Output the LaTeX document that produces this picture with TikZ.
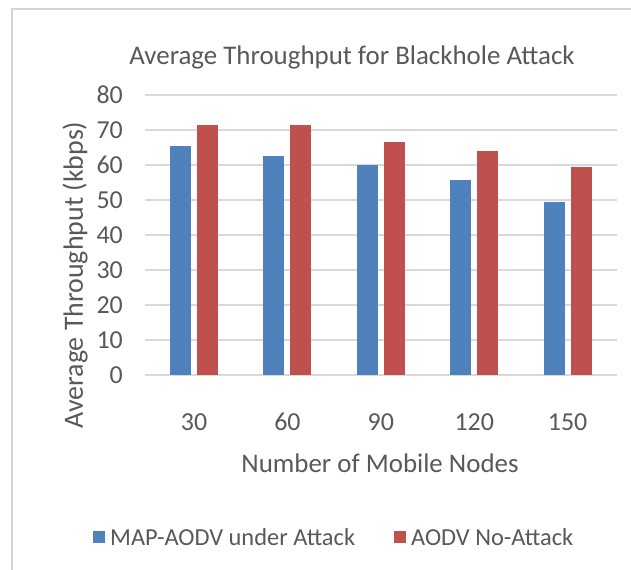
\documentclass[tikz,border=0pt]{standalone}
\usepackage{fontspec}
\setmainfont{Carlito}
\definecolor{txtgray}{HTML}{595959}
\definecolor{gridgray}{HTML}{D9D9D9}
\definecolor{framegray}{HTML}{D4D4D4}
\definecolor{serA}{HTML}{4F81BD}
\definecolor{serB}{HTML}{C0504D}
\begin{document}
\begin{tikzpicture}[x=1bp,y=-1bp,
  lbl/.style={text=txtgray,inner sep=0pt,font=\fontsize{26}{30}\selectfont},
  ttl/.style={text=txtgray,inner sep=0pt,font=\fontsize{27}{31}\selectfont},
  leg/.style={text=txtgray,inner sep=0pt,font=\fontsize{24.5}{28}\selectfont},
  gridline/.style={draw=gridgray,line width=1.2bp},
  barA/.style={fill=serA},
  barB/.style={fill=serB}]
\useasboundingbox (0,0) rectangle (631,570);
\fill[white] (0,0) rectangle (631,570);
% chart frame (runs past the right and bottom edges)
\draw[framegray,line width=2bp] (12,600) -- (12,9) -- (650,9);
% title
\node[ttl] (title) at (352,57) {Average Throughput for Blackhole Attack};
% value axis: 3.5 px per unit, zero at y=375
\foreach \v in {0,10,...,80}{
  \draw[gridline] (145,{375-3.5*\v}) -- (617,{375-3.5*\v});
  \node[lbl,anchor=east] (tick\v) at (123,{375-3.5*\v}) {\v};
}
\node[ttl,rotate=90,font=\fontsize{28}{32}\selectfont] (ytitle) at (75,275) {Average Throughput (kbps)};
% bars: group centres 93.4 px apart
\foreach \c/\a/\b [count=\i from 0] in {30/65.5/71.3,60/62.5/71.3,90/60/66.5,120/55.7/64,150/49.4/59.4}{
  \pgfmathsetmacro{\xc}{194+93.4*\i}
  \fill[barA] ({\xc-24},375) rectangle ({\xc-3},{375-3.5*\a});
  \fill[barB] ({\xc+3},375) rectangle ({\xc+24},{375-3.5*\b});
  \node[lbl] (cat\c) at (\xc,422) {\c};
}
\node[ttl] (xtitle) at (380,463) {Number of Mobile Nodes};
% legend
\fill[serA] (93,531) rectangle (105,543);
\node[leg,anchor=west] (legA) at (110,537) {MAP-AODV under Attack};
\fill[serB] (394,531) rectangle (406,543);
\node[leg,anchor=west] (legB) at (411,537) {AODV No-Attack};
\end{tikzpicture}
\end{document}
